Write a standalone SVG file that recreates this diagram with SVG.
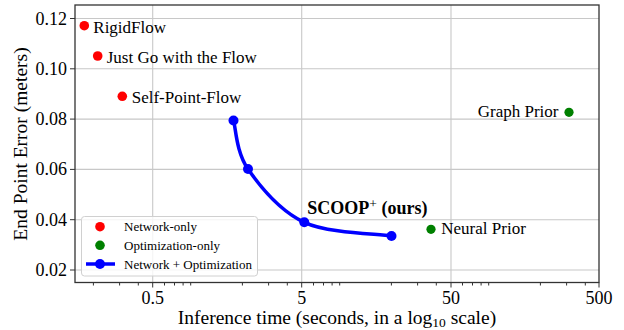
<svg xmlns="http://www.w3.org/2000/svg" width="624" height="330" viewBox="0 0 624 330">
<style>
text{font-family:"Liberation Serif","Times New Roman",serif;fill:#000}
.grid{stroke:#c8c8c8;stroke-width:1.1;fill:none}
.tick{stroke:#333;stroke-width:1}
.ytl{font-size:18px;text-anchor:end}
.xtl{font-size:18px;text-anchor:middle}
.lbl{font-size:17px}
.leg{font-size:13px}
.red{fill:#ff0000}
.green{fill:#008000}
.blue{fill:#0000ff}
</style>
<rect width="624" height="330" fill="#fff"/>
<g id="grid">
<path class="grid" d="M75 18.5H599M75 68.8H599M75 119.1H599M75 169.4H599M75 219.7H599M75 270H599"/>
<path class="grid" d="M152.7 5V282.5M301.7 5V282.5M451 5V282.5"/>
</g>
<g id="axes">
<path class="tick" d="M70 18.5H75M70 68.8H75M70 119.1H75M70 169.4H75M70 219.7H75M70 270H75"/>
<path class="tick" d="M152.7 282.5v5M301.7 282.5v5M451 282.5v5M599 282.5v5"/>
<path class="tick" d="M93.4 282.5v3M119.6 282.5v3M138.3 282.5v3M164.5 282.5v3M174.5 282.5v3M183.1 282.5v3M190.7 282.5v3M242.4 282.5v3M268.6 282.5v3M287.3 282.5v3M313.5 282.5v3M323.5 282.5v3M332.1 282.5v3M339.7 282.5v3M391.4 282.5v3M417.6 282.5v3M436.3 282.5v3M462.5 282.5v3M472.5 282.5v3M481.1 282.5v3M488.7 282.5v3M540.4 282.5v3M566.6 282.5v3M585.3 282.5v3"/>
<rect x="75" y="5" width="524" height="277.5" fill="none" stroke="#333" stroke-width="1.3"/>
<text class="ytl" x="67" y="24.5">0.12</text>
<text class="ytl" x="67" y="74.8">0.10</text>
<text class="ytl" x="67" y="125.1">0.08</text>
<text class="ytl" x="67" y="175.4">0.06</text>
<text class="ytl" x="67" y="225.7">0.04</text>
<text class="ytl" x="67" y="276">0.02</text>
<text class="xtl" x="152.7" y="303.5">0.5</text>
<text class="xtl" x="301.7" y="303.5">5</text>
<text class="xtl" x="451" y="303.5">50</text>
<text class="xtl" x="599" y="303.5">500</text>
<text x="337" y="324" font-size="19.5" text-anchor="middle">Inference time (seconds, in a log<tspan font-size="13.5" dy="3">10</tspan><tspan dy="-3"> scale)</tspan></text>
<text x="0" y="0" font-size="19.5" text-anchor="middle" transform="translate(26.5 144) rotate(-90)">End Point Error (meters)</text>
</g>
<g id="connectors">
<path d="M233.5 120.5C235.9 128.6 236.2 152 248 169C259.8 186 280.4 211.1 304.3 222.3C328.2 233.5 377 233.7 391.5 236" fill="none" stroke="#0000ff" stroke-width="3.5" stroke-linecap="round"/>
</g>
<g id="node-rigidflow"><circle class="red" cx="84.3" cy="25.7" r="4.8"/><text class="lbl" x="93.3" y="33.3">RigidFlow</text></g>
<g id="node-justgo"><circle class="red" cx="97.7" cy="56" r="4.8"/><text class="lbl" x="106.7" y="63.3">Just Go with the Flow</text></g>
<g id="node-selfpointflow"><circle class="red" cx="122.3" cy="96.3" r="4.8"/><text class="lbl" x="131.7" y="103.3">Self-Point-Flow</text></g>
<g id="node-graphprior"><circle class="green" cx="569" cy="112.3" r="4.6"/><text class="lbl" x="558.5" y="117" text-anchor="end">Graph Prior</text></g>
<g id="node-neuralprior"><circle class="green" cx="431" cy="229.3" r="4.6"/><text class="lbl" x="441.3" y="234">Neural Prior</text></g>
<g id="node-scoop1"><circle class="blue" cx="233.5" cy="120.5" r="5"/></g>
<g id="node-scoop2"><circle class="blue" cx="248" cy="169" r="5"/></g>
<g id="node-scoop3"><circle class="blue" cx="304.3" cy="222.3" r="5"/><text x="307.3" y="214" font-size="18" font-weight="bold">SCOOP<tspan font-size="13.5" font-weight="normal" dy="-6">+</tspan><tspan dy="6"> (ours)</tspan></text></g>
<g id="node-scoop4"><circle class="blue" cx="391.5" cy="236" r="5"/></g>
<g id="legend">
<rect x="81.5" y="216.5" width="176" height="59.5" rx="3" fill="#fff" fill-opacity="0.8" stroke="#d0d0d0" stroke-width="1"/>
<circle class="red" cx="100" cy="226.7" r="4.8"/>
<text class="leg" x="124" y="231.2">Network-only</text>
<circle class="green" cx="100" cy="245.3" r="4.8"/>
<text class="leg" x="124" y="249.8">Optimization-only</text>
<path d="M86 264H115" stroke="#0000ff" stroke-width="3.5"/>
<circle class="blue" cx="100" cy="264" r="5"/>
<text class="leg" x="124" y="268.5">Network + Optimization</text>
</g>
</svg>
